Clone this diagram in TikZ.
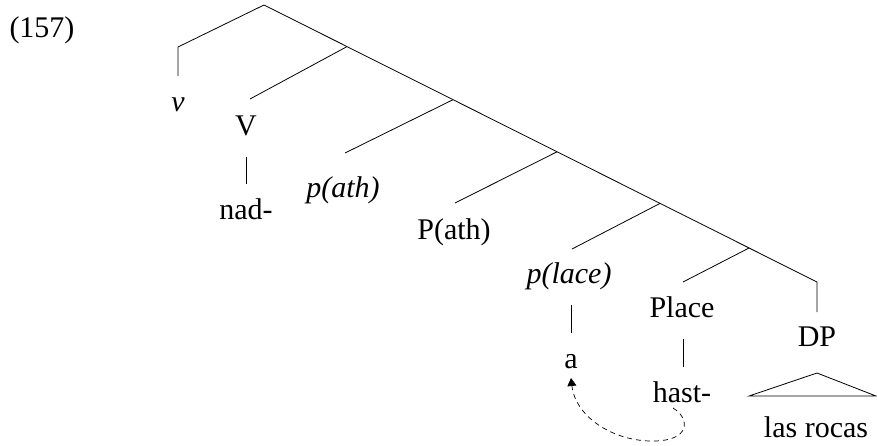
\documentclass[tikz,border=0pt]{standalone}
\usepackage{fontspec}
\setmainfont{Liberation Serif}
\usetikzlibrary{arrows.meta}
\begin{document}
\begin{tikzpicture}[x=1pt,y=-1pt,
  lbl/.style={anchor=base,inner sep=0pt,font=\fontsize{30}{36}\selectfont},
  edge/.style={line width=0.8pt,line cap=butt},
  move/.style={line width=0.7pt,dash pattern=on 5pt off 4pt,
    -{Triangle[length=8pt,width=9pt]}}]
\useasboundingbox (0,0) rectangle (877,445);

% example number
\node[lbl] (num) at (42,37) {(157)};

% labels
\node[lbl] (v)      at (178,111) {\textit{v}};
\node[lbl] (V)      at (246,135) {V};
\node[lbl] (nad)    at (246,219) {nad-};
\node[lbl] (pPath)  at (343,197) {\textit{p(ath)}};
\node[lbl] (Path)   at (454,239) {P(ath)};
\node[lbl] (pPlace) at (569,283) {\textit{p(lace)}};
\node[lbl] (a)      at (571,368) {a};
\node[lbl] (Place)  at (682,317) {Place};
\node[lbl] (hast)   at (682,402) {hast-};
\node[lbl] (DP)     at (817,346) {DP};
\node[lbl] (rocas)  at (816,437) {las rocas};

% spine and branching points
\coordinate (root) at (264,5);
\coordinate (vc)   at (178,47);
\coordinate (vt)   at (178,76);
\coordinate (n1)   at (347,46.6);
\coordinate (n2)   at (453,99.7);
\coordinate (n3)   at (557,151.8);
\coordinate (n4)   at (660,203.4);
\coordinate (n5)   at (749,248);
\coordinate (dc)   at (817,282);
\coordinate (dt)   at (817,312);

% ends of the left daughters
\coordinate (Vt)      at (250,99);
\coordinate (pPatht)  at (345,153);
\coordinate (Patht)   at (455,203);
\coordinate (pPlacet) at (572,249);
\coordinate (Placet)  at (683,282);

% ends of the unary lines
\coordinate (Vb)      at (246,157);
\coordinate (nadt)    at (246,184);
\coordinate (pPlaceb) at (571,305);
\coordinate (at)      at (571,333);
\coordinate (Placeb)  at (683,339);
\coordinate (hastt)   at (683,367);

% triangle over the DP
\coordinate (tri1) at (817,373);
\coordinate (tri2) at (749,396);
\coordinate (tri3) at (876,396);

% tree lines
\draw[edge] (vt) -- (vc) -- (root) -- (dc) -- (dt);
\draw[edge] (n1) -- (Vt);
\draw[edge] (n2) -- (pPatht);
\draw[edge] (n3) -- (Patht);
\draw[edge] (n4) -- (pPlacet);
\draw[edge] (n5) -- (Placet);
\draw[edge] (Vb) -- (nadt);
\draw[edge] (pPlaceb) -- (at);
\draw[edge] (Placeb) -- (hastt);
\draw[edge,line join=miter] (tri1) -- (tri2) -- (tri3) -- cycle;

% movement of hast- to a
\coordinate (mvs) at (673,408);
\coordinate (mvm) at (650,441);
\coordinate (mve) at (571,378);
\draw[move] (mvs) .. controls (690,418) and (692,442) .. (mvm)
  .. controls (610,440) and (575,415) .. (mve);
\end{tikzpicture}
\end{document}
